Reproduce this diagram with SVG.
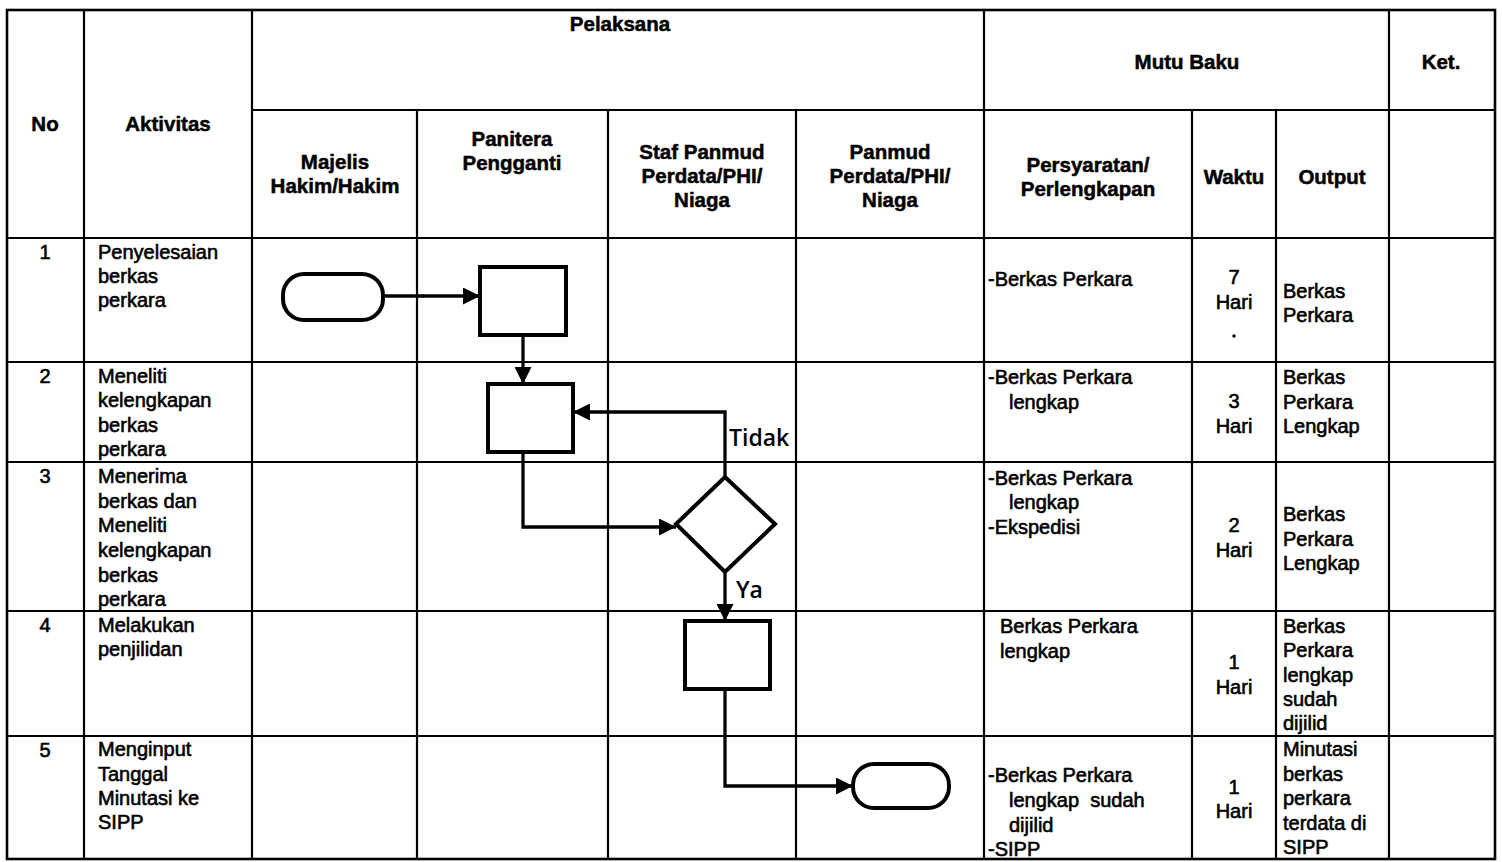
<svg xmlns="http://www.w3.org/2000/svg" width="1502" height="862" viewBox="0 0 1502 862">
<defs>
<style>
.grid{stroke:#000;stroke-width:2.2;fill:none}
.h{font-family:"Liberation Sans",Arial,sans-serif;font-size:20.5px;font-weight:bold;fill:#000;stroke:#000;stroke-width:0.5;text-anchor:middle}
.t{font-family:"Liberation Sans",Arial,sans-serif;font-size:20px;fill:#000;stroke:#000;stroke-width:0.6}
.c{text-anchor:middle}
.shape{fill:#fff;stroke:#000;stroke-width:4}
.conn{fill:none;stroke:#000;stroke-width:3.3}
.lbl{font-family:"Open Sans","Noto Sans",sans-serif;font-size:23px;font-weight:600;fill:#000}
</style>
<marker id="arr" viewBox="0 0 10 10" refX="10" refY="5" markerWidth="18" markerHeight="17" markerUnits="userSpaceOnUse" orient="auto">
<path d="M0,0 L10,5 L0,10 Z" fill="#000"/>
</marker>
</defs>
<rect width="1502" height="862" fill="#fff"/>
<g id="table">
<rect class="grid" x="7" y="10" width="1488" height="849" style="stroke-width:2.6"/>
<line class="grid" x1="84" y1="10" x2="84" y2="859"/>
<line class="grid" x1="252" y1="10" x2="252" y2="859"/>
<line class="grid" x1="984" y1="10" x2="984" y2="859"/>
<line class="grid" x1="1389" y1="10" x2="1389" y2="859"/>
<line class="grid" x1="417" y1="110" x2="417" y2="859"/>
<line class="grid" x1="608" y1="110" x2="608" y2="859"/>
<line class="grid" x1="796" y1="110" x2="796" y2="859"/>
<line class="grid" x1="1192" y1="110" x2="1192" y2="859"/>
<line class="grid" x1="1276" y1="110" x2="1276" y2="859"/>
<line class="grid" x1="252" y1="110" x2="1495" y2="110"/>
<line class="grid" x1="7" y1="238" x2="1495" y2="238"/>
<line class="grid" x1="7" y1="362" x2="1495" y2="362"/>
<line class="grid" x1="7" y1="462" x2="1495" y2="462"/>
<line class="grid" x1="7" y1="611" x2="1495" y2="611"/>
<line class="grid" x1="7" y1="736" x2="1495" y2="736"/>
</g>
<g id="headers">
<text class="h" x="45" y="131">No</text>
<text class="h" x="168" y="131">Aktivitas</text>
<text class="h" x="620" y="31">Pelaksana</text>
<text class="h" x="1187" y="69">Mutu Baku</text>
<text class="h" x="1441" y="69">Ket.</text>
<text class="h" x="335" y="169">Majelis</text>
<text class="h" x="335" y="193">Hakim/Hakim</text>
<text class="h" x="512" y="146">Panitera</text>
<text class="h" x="512" y="170">Pengganti</text>
<text class="h" x="702" y="159">Staf Panmud</text>
<text class="h" x="702" y="183">Perdata/PHI/</text>
<text class="h" x="702" y="207">Niaga</text>
<text class="h" x="890" y="159">Panmud</text>
<text class="h" x="890" y="183">Perdata/PHI/</text>
<text class="h" x="890" y="207">Niaga</text>
<text class="h" x="1088" y="172">Persyaratan/</text>
<text class="h" x="1088" y="196">Perlengkapan</text>
<text class="h" x="1234" y="184">Waktu</text>
<text class="h" x="1332" y="184">Output</text>
</g>
<g id="row1">
<text class="t c" x="45" y="259">1</text>
<text class="t" x="98" y="259">Penyelesaian</text>
<text class="t" x="98" y="283">berkas</text>
<text class="t" x="98" y="307">perkara</text>
<text class="t" x="988" y="286">-Berkas Perkara</text>
<text class="t c" x="1234" y="284">7</text>
<text class="t c" x="1234" y="309">Hari</text>
<circle cx="1234" cy="336" r="1.7" fill="#000"/>
<text class="t" x="1283" y="298">Berkas</text>
<text class="t" x="1283" y="322">Perkara</text>
</g>
<g id="row2">
<text class="t c" x="45" y="383">2</text>
<text class="t" x="98" y="383">Meneliti</text>
<text class="t" x="98" y="407">kelengkapan</text>
<text class="t" x="98" y="432">berkas</text>
<text class="t" x="98" y="456">perkara</text>
<text class="t" x="988" y="384">-Berkas Perkara</text>
<text class="t" x="1009" y="409">lengkap</text>
<text class="t c" x="1234" y="408">3</text>
<text class="t c" x="1234" y="433">Hari</text>
<text class="t" x="1283" y="384">Berkas</text>
<text class="t" x="1283" y="409">Perkara</text>
<text class="t" x="1283" y="433">Lengkap</text>
</g>
<g id="row3">
<text class="t c" x="45" y="483">3</text>
<text class="t" x="98" y="483">Menerima</text>
<text class="t" x="98" y="508">berkas dan</text>
<text class="t" x="98" y="532">Meneliti</text>
<text class="t" x="98" y="557">kelengkapan</text>
<text class="t" x="98" y="582">berkas</text>
<text class="t" x="98" y="606">perkara</text>
<text class="t" x="988" y="485">-Berkas Perkara</text>
<text class="t" x="1009" y="509">lengkap</text>
<text class="t" x="988" y="534">-Ekspedisi</text>
<text class="t c" x="1234" y="532">2</text>
<text class="t c" x="1234" y="557">Hari</text>
<text class="t" x="1283" y="521">Berkas</text>
<text class="t" x="1283" y="546">Perkara</text>
<text class="t" x="1283" y="570">Lengkap</text>
</g>
<g id="row4">
<text class="t c" x="45" y="632">4</text>
<text class="t" x="98" y="632">Melakukan</text>
<text class="t" x="98" y="656">penjilidan</text>
<text class="t" x="1000" y="633">Berkas Perkara</text>
<text class="t" x="1000" y="658">lengkap</text>
<text class="t c" x="1234" y="669">1</text>
<text class="t c" x="1234" y="694">Hari</text>
<text class="t" x="1283" y="633">Berkas</text>
<text class="t" x="1283" y="657">Perkara</text>
<text class="t" x="1283" y="682">lengkap</text>
<text class="t" x="1283" y="706">sudah</text>
<text class="t" x="1283" y="730">dijilid</text>
</g>
<g id="row5">
<text class="t c" x="45" y="757">5</text>
<text class="t" x="98" y="756">Menginput</text>
<text class="t" x="98" y="781">Tanggal</text>
<text class="t" x="98" y="805">Minutasi ke</text>
<text class="t" x="98" y="829">SIPP</text>
<text class="t" x="988" y="782">-Berkas Perkara</text>
<text class="t" x="1009" y="807" xml:space="preserve">lengkap  sudah</text>
<text class="t" x="1009" y="832">dijilid</text>
<text class="t" x="988" y="856">-SIPP</text>
<text class="t c" x="1234" y="794">1</text>
<text class="t c" x="1234" y="818">Hari</text>
<text class="t" x="1283" y="756">Minutasi</text>
<text class="t" x="1283" y="781">berkas</text>
<text class="t" x="1283" y="805">perkara</text>
<text class="t" x="1283" y="830">terdata di</text>
<text class="t" x="1283" y="854">SIPP</text>
</g>
<g id="connectors">
<line class="conn" x1="383" y1="296" x2="480" y2="296" marker-end="url(#arr)"/>
<line class="conn" x1="523" y1="335" x2="523" y2="384" marker-end="url(#arr)"/>
<polyline class="conn" points="523,452 523,527 676,527" marker-end="url(#arr)"/>
<polyline class="conn" points="725,477 725,412 573,412" marker-end="url(#arr)"/>
<line class="conn" x1="725" y1="572" x2="725" y2="621" marker-end="url(#arr)"/>
<polyline class="conn" points="725,689 725,786 853,786" marker-end="url(#arr)"/>
<text class="lbl" x="729" y="446">Tidak</text>
<text class="lbl" x="736" y="598">Ya</text>
</g>
<g id="start"><rect class="shape" x="283" y="274" width="100" height="46" rx="21"/></g>
<g id="box1"><rect class="shape" x="480" y="267" width="86" height="68"/></g>
<g id="box2"><rect class="shape" x="488" y="384" width="85" height="68"/></g>
<g id="decision"><polygon class="shape" points="725,477 775,524 725,572 676,524"/></g>
<g id="box3"><rect class="shape" x="685" y="621" width="85" height="68"/></g>
<g id="end"><rect class="shape" x="853" y="764" width="96" height="44" rx="21"/></g>
</svg>
